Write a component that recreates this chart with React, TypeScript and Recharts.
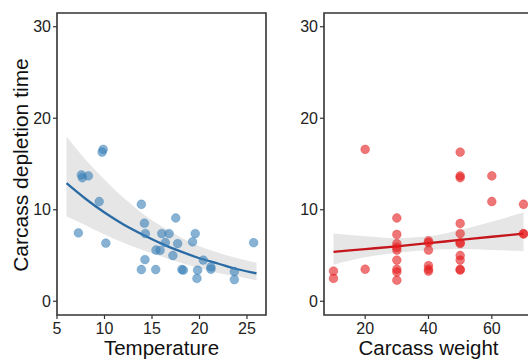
import React from 'react';
import {
  ComposedChart,
  Area,
  Line,
  Scatter,
  XAxis,
  YAxis,
  ReferenceArea,
} from 'recharts';

// left panel: depletion time vs temperature
const tempX = [9.86, 9.75, 7.57, 7.67, 8.3, 9.44, 7.25, 10.14, 13.88, 14.2, 14.3, 14.26, 13.88, 15.39, 16.03, 16.8, 16.4,
  15.42, 15.85, 17.5, 17.7, 17.2, 18.14, 18.3, 19.55, 19.27, 19.8, 19.73, 20.4, 21.2, 21.2, 23.67, 23.67, 25.7];
const tempY = [16.6, 16.3, 13.8, 13.5, 13.7, 10.9, 7.47, 6.35, 10.6, 8.53, 7.4, 4.56, 3.47, 3.47, 7.4, 7.4, 6.42,
  5.6, 5.57, 9.1, 6.3, 5.0, 3.47, 3.4, 7.4, 6.5, 3.4, 2.5, 4.5, 3.75, 3.5, 3.25, 2.37, 6.4];
const tempGrid = [6, 8, 10, 12, 14, 16, 18, 20, 22, 24, 26];
const tempFit = [12.9, 11.2, 9.7, 8.4, 7.3, 6.3, 5.45, 4.7, 4.1, 3.5, 3.05];
const tempLower = [9.3, 8.3, 7.3, 6.4, 5.6, 4.9, 4.2, 3.6, 3.1, 2.7, 2.3];
const tempUpper = [18.0, 15.5, 13.3, 11.3, 9.6, 8.2, 7.0, 6.0, 5.3, 4.7, 4.2];

// right panel: depletion time vs carcass weight
const weightX = [10, 10, 20, 20, 30, 30, 30, 30, 30, 30, 30, 30, 30, 40, 40, 40, 40, 40, 40,
  50, 50, 50, 50, 50, 50, 50, 50, 50, 50, 50, 60, 60, 70, 70, 70];
const weightY = [3.3, 2.5, 16.6, 3.5, 9.1, 7.3, 6.3, 5.9, 5.6, 4.5, 3.5, 3.2, 2.3, 6.6, 6.4, 5.6, 3.9, 3.5, 3.3,
  16.3, 13.7, 13.5, 8.5, 7.4, 6.4, 6.3, 5.0, 4.5, 3.5, 3.4, 13.7, 10.9, 10.6, 7.4, 7.35];
const weightGrid = [10, 20, 30, 40, 50, 60, 70];
const weightFit = [5.4, 5.7, 6.0, 6.35, 6.7, 7.05, 7.4];
const weightLower = [4.0, 4.8, 5.3, 5.6, 5.7, 5.6, 5.5];
const weightUpper = [7.4, 7.1, 6.9, 7.1, 7.8, 8.7, 9.7];

const yTicks = [0, 10, 20, 30];
const tempTicks = [5, 10, 15, 20, 25];
const weightTicks = [20, 40, 60];

const font = '"Liberation Sans", Arial, sans-serif';
const tickStyle = { fontSize: 16, fill: '#222', fontFamily: font };
const titleStyle = { fontSize: 20.5, fill: '#111', fontFamily: font, textAnchor: 'middle' as const };

const dot = (color: string) => (props: any) => (
  <circle cx={props.cx} cy={props.cy} r={4.4} fill={color} fillOpacity={0.6} stroke={color} strokeOpacity={0.5} strokeWidth={0.6} />
);

// rotated y title, centred on the panel
const yTitle = (text: string) => (props: any) => {
  const vb = props.viewBox || {};
  const cy = (vb.y ?? 13) + (vb.height ?? 302) / 2 + 1;
  return (
    <text
      x={20}
      y={cy}
      transform={`rotate(-90, 20, ${cy})`}
      textAnchor="middle"
      dominantBaseline="central"
      style={{ fontSize: 21, fill: '#111', fontFamily: font }}
    >
      {text}
    </text>
  );
};

interface PanelProps {
  grid: number[];
  fit: number[];
  lower: number[];
  upper: number[];
  xs: number[];
  ys: number[];
  xDomain: [number, number];
  xTicks: number[];
  xTitle: string;
  yTitle?: string;
  yAxisWidth: number;
  width: number;
  pointColor: string;
  lineColor: string;
}

const Panel: React.FC<PanelProps> = (p) => {
  const curve = p.grid.map((x, i) => ({ x, fit: p.fit[i], band: [p.lower[i], p.upper[i]] }));
  const points = p.xs.map((x, i) => ({ x, y: p.ys[i] }));
  return (
    <ComposedChart width={p.width} height={359} data={curve} margin={{ top: 13, right: 4, bottom: 0, left: 0 }}>
      <XAxis
        dataKey="x"
        type="number"
        domain={p.xDomain}
        ticks={p.xTicks}
        allowDataOverflow
        axisLine={false}
        tickLine={{ stroke: '#333', strokeWidth: 1.2 }}
        tickSize={4}
        tickMargin={4}
        tick={tickStyle}
        height={44}
        interval={0}
        label={{ value: p.xTitle, position: 'insideBottom', offset: 4, style: titleStyle }}
      />
      <YAxis
        type="number"
        domain={[-1.5, 31.5]}
        ticks={yTicks}
        allowDataOverflow
        axisLine={false}
        tickLine={{ stroke: '#333', strokeWidth: 1.2 }}
        tickSize={4}
        tickMargin={2}
        tick={tickStyle}
        width={p.yAxisWidth}
        label={p.yTitle ? { content: yTitle(p.yTitle) } : undefined}
      />
      <Area
        dataKey="band"
        type="monotone"
        stroke="none"
        fill="#E6E6E6"
        fillOpacity={1}
        isAnimationActive={false}
      />
      <Line
        dataKey="fit"
        type="monotone"
        stroke={p.lineColor}
        strokeWidth={2.3}
        dot={false}
        isAnimationActive={false}
      />
      <Scatter data={points} dataKey="y" shape={dot(p.pointColor)} isAnimationActive={false} />
      <ReferenceArea
        x1={p.xDomain[0]}
        x2={p.xDomain[1]}
        y1={-1.5}
        y2={31.5}
        fill="none"
        fillOpacity={0}
        stroke="#333"
        strokeWidth={1.6}
        ifOverflow="visible"
      />
    </ComposedChart>
  );
};

export default function App() {
  return (
    <div style={{ position: 'fixed', left: 0, top: 0, width: 528, height: 359, overflow: 'hidden', background: '#fff' }}>
      <div style={{ position: 'absolute', left: 0, top: 0 }}>
        <Panel
          grid={tempGrid}
          fit={tempFit}
          lower={tempLower}
          upper={tempUpper}
          xs={tempX}
          ys={tempY}
          xDomain={[5, 27]}
          xTicks={tempTicks}
          xTitle="Temperature"
          yTitle="Carcass depletion time"
          yAxisWidth={57}
          width={270}
          pointColor="#377EB8"
          lineColor="#2A6BA5"
        />
      </div>
      <div style={{ position: 'absolute', left: 270, top: 0 }}>
        <Panel
          grid={weightGrid}
          fit={weightFit}
          lower={weightLower}
          upper={weightUpper}
          xs={weightX}
          ys={weightY}
          xDomain={[7, 73]}
          xTicks={weightTicks}
          xTitle="Carcass weight"
          yAxisWidth={54}
          width={267}
          pointColor="#E41A1C"
          lineColor="#C4161C"
        />
      </div>
    </div>
  );
}
